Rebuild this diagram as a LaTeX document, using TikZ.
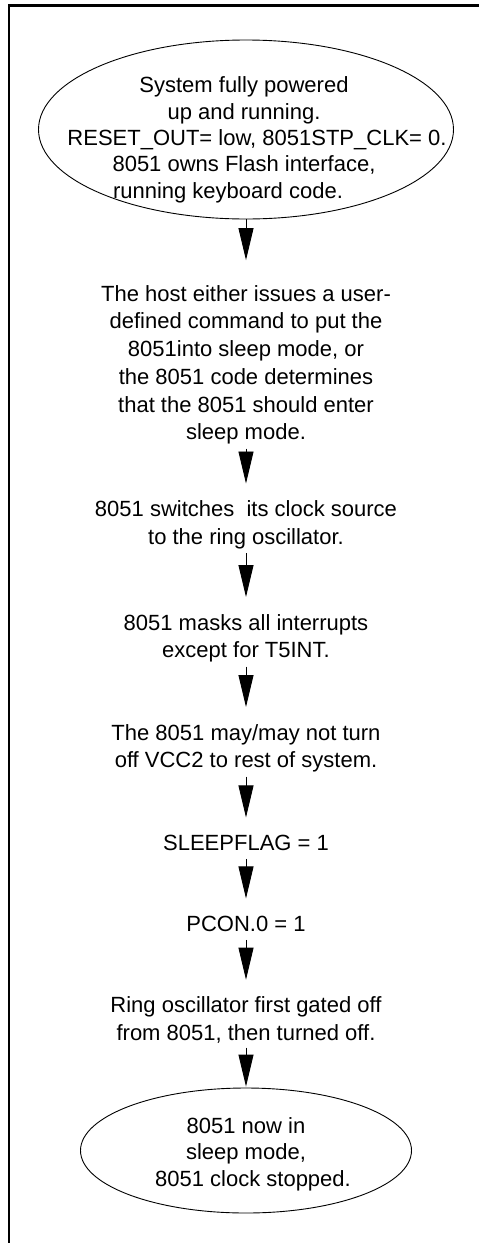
\documentclass[tikz,border=0pt]{standalone}
\usepackage{fontspec}
\setmainfont{Liberation Sans}
\usetikzlibrary{shapes.geometric,arrows.meta}

\begin{document}
\begin{tikzpicture}[
  x=1pt,y=-1pt,
  txt/.style={align=center,inner xsep=0pt,inner ysep=4pt,
              font=\fontsize{22}{27.7}\selectfont},
  oval/.style={draw,ellipse,line width=0.9pt,inner sep=0pt},
  flow/.style={-{Triangle[length=32pt,width=15pt]},line width=0.9pt,
               shorten >=13pt},
  frame/.style={line width=2.2pt,line join=miter},
]
\useasboundingbox (0,0) rectangle (479,1243);
\draw[frame] (479,5.5) -- (9,5.5) -- (9,1243);

% start state
\node[oval,minimum width=415pt,minimum height=179pt] (running) at (246,129.5) {};
\node[txt,font=\fontsize{22}{26.3}\selectfont] (runningtxt) at (244,139.8) {
  System fully powered\\
  up and running.\\
  \hspace*{26pt}RESET\_OUT= low, 8051STP\_CLK= 0.\\
  8051 owns Flash interface,\hspace*{64pt}\\
  running keyboard code.\hspace*{32pt}
};

% steps
\node[txt] (host) at (246,364.8) {
  The host either issues a user-\\
  defined command to put the\\
  8051into sleep mode, or\\
  the 8051 code determines\\
  that the 8051 should enter\\
  sleep mode.
};
\node[txt] (clocksrc) at (246,524.8) {
  8051 switches~ its clock source\\
  to the ring oscillator.
};
\node[txt] (masks) at (246,638.3) {
  8051 masks all interrupts\\
  except for T5INT.
};
\node[txt] (vcc) at (246,748.3) {
  The 8051 may/may not turn\\
  off VCC2 to rest of system.
};
\node[txt,anchor=base,text depth=4.6pt] (flag) at (246,850) {SLEEPFLAG = 1};
\node[txt,anchor=base,text depth=4.6pt] (pcon) at (246,931) {PCON.0 = 1};
\node[txt] (ringoff) at (246,1020.1) {
  Ring oscillator first gated off\\
  from 8051, then turned off.
};

% end state
\node[oval,minimum width=331pt,minimum height=125pt] (asleep) at (246,1150.5) {};
\node[txt,font=\fontsize{22}{26.5}\selectfont] (asleeptxt) at (246,1153.8) {
  8051 now in\\
  sleep mode,\\
  \hspace*{14pt}8051 clock stopped.
};

\draw[flow,shorten >=21pt] (running) -- (host);
\draw[flow] (host) -- (clocksrc);
\draw[flow] (clocksrc) -- (masks);
\draw[flow] (masks) -- (vcc);
\draw[flow] (vcc) -- (flag);
\draw[flow] (flag) -- (pcon);
\draw[flow] (pcon) -- (ringoff);
\draw[flow,shorten >=1pt] (ringoff) -- (asleep);
\end{tikzpicture}
\end{document}
